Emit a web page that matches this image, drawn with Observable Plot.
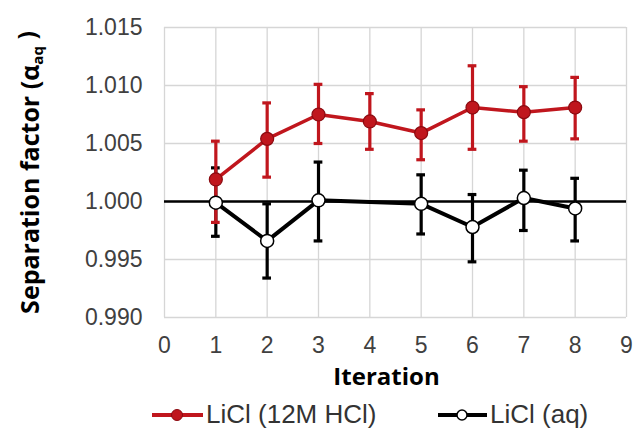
<!DOCTYPE html>
<html>
<head>
<meta charset="utf-8">
<script src="https://cdn.jsdelivr.net/npm/d3@7"></script>
<script src="https://cdn.jsdelivr.net/npm/@observablehq/plot@0.6"></script>
<style>
  html, body { margin: 0; padding: 0; background: white; }
  #wrap { position: relative; width: 633px; height: 430px; overflow: hidden; }
  #legend { position: absolute; left: 0; top: 395px; width: 633px; height: 35px;
            font-family: 'Liberation Sans', Arial, sans-serif; font-size: 26px; color: #333; }
  .item { position: absolute; top: 0; height: 35px; display: flex; align-items: center; }
</style>
</head>
<body>
<div id="wrap">
  <div id="chart"></div>
  <div id="legend">
    <div class="item" style="left:150px">
      <svg width="56" height="35"><line x1="2" y1="20" x2="53" y2="20" stroke="#c0161d" stroke-width="4"/><circle cx="27" cy="20" r="5.5" fill="#c0161d" stroke="#8b0a10" stroke-width="1"/></svg>
      <span style="margin-top:4px">LiCl (12M HCl)</span>
    </div>
    <div class="item" style="left:436px">
      <svg width="54" height="35"><line x1="2" y1="20" x2="51" y2="20" stroke="black" stroke-width="4"/><circle cx="26" cy="20" r="5" fill="white" stroke="black" stroke-width="1.5"/></svg>
      <span style="margin-top:4px">LiCl (aq)</span>
    </div>
  </div>
</div>
<script>
// ---- data ----
const xTicks = [0, 1, 2, 3, 4, 5, 6, 7, 8, 9];
const yTicks = [0.990, 0.995, 1.000, 1.005, 1.010, 1.015];

const hclIter = [1, 2, 3, 4, 5, 6, 7, 8];
const hclMean = [1.0019, 1.0054, 1.0075, 1.0069, 1.0059, 1.0081, 1.0077, 1.0081];
const hclLow  = [0.9982, 1.0021, 1.0050, 1.0045, 1.0036, 1.0045, 1.0052, 1.0054];
const hclHigh = [1.0052, 1.0085, 1.0101, 1.0093, 1.0079, 1.0117, 1.0099, 1.0107];

const aqIter = [1, 2, 3, 5, 6, 7, 8];
const aqMean = [0.9999, 0.9966, 1.0001, 0.9998, 0.9978, 1.0003, 0.9994];
const aqLow  = [0.9970, 0.9934, 0.9966, 0.9972, 0.9948, 0.9975, 0.9966];
const aqHigh = [1.0029, 0.9998, 1.0034, 1.0023, 1.0006, 1.0027, 1.0020];

const hcl = hclIter.map((x, i) => ({x, y: hclMean[i], lo: hclLow[i], hi: hclHigh[i]}));
const aq = aqIter.map((x, i) => ({x, y: aqMean[i], lo: aqLow[i], hi: aqHigh[i]}));

const RED = "#c0161d";
const cap = 0.085;

function errorMarks(data, color) {
  return [
    Plot.ruleX(data, {x: "x", y1: "lo", y2: "hi", stroke: color, strokeWidth: 3.2}),
    Plot.ruleY(data, {y: "lo", x1: d => d.x - cap, x2: d => d.x + cap, stroke: color, strokeWidth: 3.2}),
    Plot.ruleY(data, {y: "hi", x1: d => d.x - cap, x2: d => d.x + cap, stroke: color, strokeWidth: 3.2})
  ];
}

const chart = Plot.plot({
  width: 633,
  height: 395,
  marginLeft: 164,
  marginRight: 7,
  marginTop: 27,
  marginBottom: 78,
  style: {fontFamily: "'Liberation Sans', Arial, sans-serif", fontSize: "23px", color: "#404040", background: "white", overflow: "visible"},
  x: {domain: [0, 9], ticks: xTicks, tickSize: 0, tickPadding: 19, label: null},
  y: {domain: [0.990, 1.015], ticks: yTicks, tickFormat: d3.format(".3f"), tickSize: 0, tickPadding: 22, label: null},
  marks: [
    Plot.ruleX(xTicks, {x: d => d, stroke: "#d6d6d6", strokeWidth: 1.3}),
    Plot.ruleY(yTicks, {y: d => d, stroke: "#d6d6d6", strokeWidth: 1.3}),
    Plot.ruleY([1], {y: d => d, stroke: "black", strokeWidth: 2.6}),
    ...errorMarks(aq, "black"),
    ...errorMarks(hcl, RED),
    Plot.line(hcl, {x: "x", y: "y", stroke: RED, strokeWidth: 3.5}),
    Plot.dot(hcl, {x: "x", y: "y", r: 6.5, fill: RED, stroke: "#8b0a10", strokeWidth: 1.2}),
    Plot.line(aq, {x: "x", y: "y", stroke: "black", strokeWidth: 4}),
    Plot.dot(aq, {x: "x", y: "y", r: 6.5, fill: "white", stroke: "black", strokeWidth: 1.5}),
    Plot.text(["Iteration"], {text: d => d, frameAnchor: "bottom", dy: 67, dx: -9, fontWeight: "bold", fontSize: 24, fontFamily: "'Open Sans', sans-serif", fill: "black"}),
    Plot.text(["Separation factor (αaq )"], {text: d => d, frameAnchor: "left", textAnchor: "middle", rotate: -90, dx: -134, fontWeight: "bold", fontSize: 25, fontFamily: "'Open Sans', sans-serif", fill: "black"})
  ]
});

d3.select(chart).selectAll("text").filter(function() { return this.textContent.startsWith("Separation"); })
  .each(function() {
    const t = d3.select(this);
    t.text(null);
    t.append("tspan").text("Separation factor (α");
    t.append("tspan").attr("dy", "0.3em").attr("font-size", 15).text("aq");
    t.append("tspan").attr("dy", "-0.3em").text(" )");
  });

document.getElementById("chart").appendChild(chart);
</script>
</body>
</html>
